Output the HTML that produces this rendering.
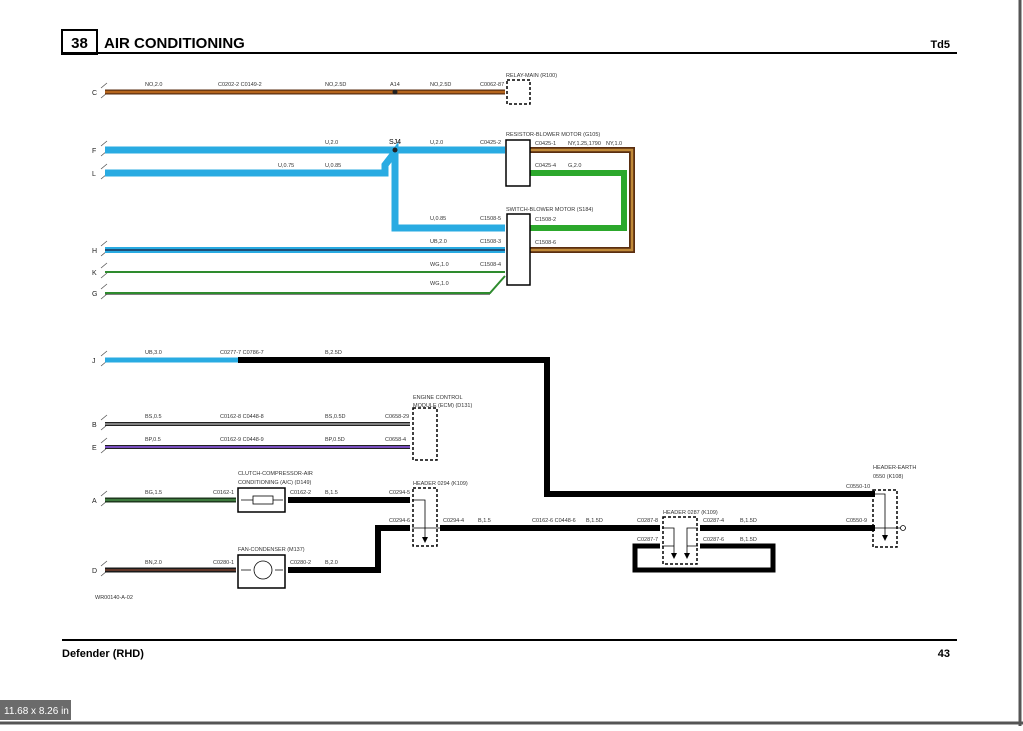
<!DOCTYPE html>
<html><head><meta charset="utf-8"><style>
body{margin:0;background:#fff;width:1023px;height:726px;overflow:hidden;font-family:"Liberation Sans",sans-serif}
svg text{font-family:"Liberation Sans",sans-serif}
.s{font-size:5.5px;fill:#333}
.m{font-size:7px;fill:#222}
</style></head><body>
<svg width="1023" height="726" viewBox="0 0 1023 726" xmlns="http://www.w3.org/2000/svg">
<rect x="0" y="0" width="1023" height="726" fill="#fff"/>
<line x1="1020" y1="0" x2="1020" y2="726" stroke="#555" stroke-width="3"/>
<line x1="0" y1="723" x2="1023" y2="723" stroke="#555" stroke-width="3"/>
<!-- header -->
<rect x="62" y="30" width="35" height="24" fill="#fff" stroke="#000" stroke-width="2"/>
<text x="79.5" y="48" text-anchor="middle" font-size="15" font-weight="bold">38</text>
<text x="104" y="48" font-size="15" font-weight="bold">AIR CONDITIONING</text>
<text x="950" y="48" text-anchor="end" font-size="11" font-weight="bold">Td5</text>
<line x1="62" y1="53" x2="957" y2="53" stroke="#000" stroke-width="2"/>
<line x1="62" y1="640" x2="957" y2="640" stroke="#000" stroke-width="2"/>
<text x="62" y="657" font-size="11" font-weight="bold">Defender (RHD)</text>
<text x="950" y="657" text-anchor="end" font-size="11" font-weight="bold">43</text>
<rect x="0" y="700" width="71" height="20" fill="#6b6b6b"/>
<text x="4" y="714" font-size="10" fill="#fff">11.68 x 8.26 in</text>

<!-- row letters -->
<g class="m"><text x="92" y="95">C</text><text x="92" y="153">F</text><text x="92" y="176">L</text><text x="92" y="253">H</text><text x="92" y="275">K</text><text x="92" y="296">G</text><text x="92" y="363">J</text><text x="92" y="427">B</text><text x="92" y="450">E</text><text x="92" y="503">A</text><text x="92" y="573">D</text></g>
<g stroke="#555" stroke-width="0.8" fill="none">
<path d="M101 88l6-5M101 98l6-5M101 146l6-5M101 156l6-5M101 169l6-5M101 179l6-5M101 246l6-5M101 256l6-5M101 268l6-5M101 278l6-5M101 289l6-5M101 299l6-5M101 356l6-5M101 366l6-5M101 420l6-5M101 430l6-5M101 443l6-5M101 453l6-5M101 496l6-5M101 506l6-5M101 566l6-5M101 576l6-5"/>
</g>

<!-- C brown -->
<line x1="105" y1="92" x2="505" y2="92" stroke="#5a2e10" stroke-width="5"/>
<line x1="105" y1="92" x2="505" y2="92" stroke="#b5651d" stroke-width="2.5"/>
<circle cx="395" cy="92" r="2.5" fill="#222"/>
<rect x="507" y="80" width="23" height="24" fill="none" stroke="#000" stroke-width="1.5" stroke-dasharray="3,2"/>
<g class="s"><text x="145" y="86">NO,2.0</text><text x="218" y="86">C0202-2 C0149-2</text><text x="325" y="86">NO,2.5D</text><text x="390" y="86">A14</text><text x="430" y="86">NO,2.5D</text><text x="480" y="86">C0062-87</text></g>
<text x="506" y="77" class="s" font-size="6">RELAY-MAIN (R100)</text>

<!-- blue F, L, SJ4 -->
<g stroke="#29abe2" stroke-width="7" fill="none" stroke-linejoin="miter">
<line x1="105" y1="150" x2="505" y2="150"/>
<path d="M105 173H385V165L395 152V228H505"/>
</g>
<circle cx="395" cy="150" r="2.5" fill="#222"/>
<g class="s"><text x="325" y="144">U,2.0</text><text x="430" y="144">U,2.0</text><text x="480" y="144">C0425-2</text><text x="278" y="167">U,0.75</text><text x="325" y="167">U,0.85</text><text x="430" y="220">U,0.85</text><text x="480" y="220">C1508-5</text></g>
<text x="389" y="144" font-size="7">SJ4</text>
<!-- H -->
<line x1="105" y1="250" x2="505" y2="250" stroke="#29abe2" stroke-width="6"/>
<line x1="105" y1="250" x2="505" y2="250" stroke="#1a1a3a" stroke-width="1.2"/>
<!-- K, G -->
<line x1="105" y1="272" x2="505" y2="272" stroke="#2e8b2e" stroke-width="2"/>
<path d="M105 293H490L505 276" stroke="#2e8b2e" stroke-width="2" fill="none"/>
<path d="M105 294.5H490" stroke="#555" stroke-width="0.8"/>
<g class="s"><text x="430" y="243">UB,2.0</text><text x="480" y="243">C1508-3</text><text x="430" y="266">WG,1.0</text><text x="480" y="266">C1508-4</text><text x="430" y="285">WG,1.0</text></g>

<!-- brown & green loops -->
<path d="M530 150H632V250H530" stroke="#5a2e10" stroke-width="6" fill="none"/>
<path d="M530 150H632V250H530" stroke="#c08a3a" stroke-width="2.5" fill="none"/>
<path d="M530 173H624V228H530" stroke="#2ca82c" stroke-width="6" fill="none"/>
<rect x="506" y="140" width="24" height="46" fill="#fff" stroke="#000" stroke-width="1.5"/>
<rect x="507" y="214" width="23" height="71" fill="#fff" stroke="#000" stroke-width="1.5"/>
<text x="506" y="136" class="s" font-size="6">RESISTOR-BLOWER MOTOR (G105)</text>
<text x="506" y="211" class="s" font-size="6">SWITCH-BLOWER MOTOR (S184)</text>
<g class="s"><text x="535" y="145">C0425-1</text><text x="568" y="145">NY,1.25,1790</text><text x="606" y="145">NY,1.0</text><text x="535" y="167">C0425-4</text><text x="568" y="167">G,2.0</text><text x="535" y="221">C1508-2</text><text x="535" y="244">C1508-6</text></g>

<!-- J -->
<line x1="105" y1="360" x2="238" y2="360" stroke="#29abe2" stroke-width="5"/>
<path d="M238 360H547V494H875" stroke="#000" stroke-width="6" fill="none"/>
<g class="s"><text x="145" y="354">UB,3.0</text><text x="220" y="354">C0277-7 C0786-7</text><text x="325" y="354">B,2.5D</text></g>

<!-- B E -->
<line x1="105" y1="424" x2="410" y2="424" stroke="#222" stroke-width="4"/>
<line x1="105" y1="424" x2="410" y2="424" stroke="#bbb" stroke-width="1.3"/>
<line x1="105" y1="447" x2="410" y2="447" stroke="#222" stroke-width="4"/>
<line x1="105" y1="447" x2="410" y2="447" stroke="#7a4fc0" stroke-width="2"/>
<rect x="413" y="408" width="24" height="52" fill="none" stroke="#000" stroke-width="1.5" stroke-dasharray="3,2"/>
<text x="413" y="399" class="s" font-size="6">ENGINE CONTROL</text><text x="413" y="407" class="s" font-size="6">MODULE (ECM) (D131)</text>
<g class="s"><text x="145" y="418">BS,0.5</text><text x="220" y="418">C0162-8 C0448-8</text><text x="325" y="418">BS,0.5D</text><text x="385" y="418">C0658-29</text><text x="145" y="441">BP,0.5</text><text x="220" y="441">C0162-9 C0448-9</text><text x="325" y="441">BP,0.5D</text><text x="385" y="441">C0658-4</text></g>

<!-- A -->
<line x1="105" y1="500" x2="236" y2="500" stroke="#1e3a1e" stroke-width="5"/>
<line x1="105" y1="500" x2="236" y2="500" stroke="#3d7a3d" stroke-width="2"/>
<rect x="238" y="488" width="47" height="24" fill="#fff" stroke="#000" stroke-width="1.5"/>
<path d="M241 500h12M273 500h10" stroke="#000" stroke-width="0.8"/>
<rect x="253" y="496" width="20" height="8" fill="#fff" stroke="#000" stroke-width="0.8"/>
<line x1="288" y1="500" x2="410" y2="500" stroke="#000" stroke-width="6"/>
<text x="238" y="475" class="s" font-size="6">CLUTCH-COMPRESSOR-AIR</text><text x="238" y="484" class="s" font-size="6">CONDITIONING (A/C) (D149)</text>
<g class="s"><text x="145" y="494">BG,1.5</text><text x="213" y="494">C0162-1</text><text x="290" y="494">C0162-2</text><text x="325" y="494">B,1.5</text><text x="389" y="494">C0294-5</text><text x="389" y="522">C0294-6</text></g>

<!-- D -->
<line x1="105" y1="570" x2="236" y2="570" stroke="#1a1a1a" stroke-width="5"/>
<line x1="105" y1="570" x2="236" y2="570" stroke="#6b3a2a" stroke-width="1.8"/>
<rect x="238" y="555" width="47" height="33" fill="#fff" stroke="#000" stroke-width="1.5"/>
<path d="M241 570h10M275 570h8" stroke="#000" stroke-width="0.8"/>
<circle cx="263" cy="570" r="9" fill="none" stroke="#000" stroke-width="0.8"/>
<line x1="288" y1="570" x2="378" y2="570" stroke="#000" stroke-width="6"/>
<path d="M378 573V528H410" stroke="#000" stroke-width="6" fill="none"/>
<text x="238" y="551" class="s" font-size="6">FAN-CONDENSER (M137)</text>
<g class="s"><text x="145" y="564">BN,2.0</text><text x="213" y="564">C0280-1</text><text x="290" y="564">C0280-2</text><text x="325" y="564">B,2.0</text></g>
<text x="95" y="599" class="s">WR00140-A-02</text>

<!-- header 0294 -->
<rect x="413" y="488" width="24" height="58" fill="none" stroke="#000" stroke-width="1.5" stroke-dasharray="3,2"/>
<text x="413" y="485" class="s" font-size="6">HEADER 0294 (K109)</text>
<path d="M412 500H425V537M412 528H440" stroke="#000" stroke-width="0.8" fill="none"/>
<polygon points="422,537 428,537 425,543" fill="#000"/>
<line x1="440" y1="528" x2="660" y2="528" stroke="#000" stroke-width="6"/>
<g class="s"><text x="443" y="522">C0294-4</text><text x="478" y="522">B,1.5</text><text x="532" y="522">C0162-6 C0448-6</text><text x="586" y="522">B,1.5D</text><text x="637" y="522">C0287-8</text><text x="637" y="541">C0287-7</text><text x="703" y="522">C0287-4</text><text x="740" y="522">B,1.5D</text><text x="703" y="541">C0287-6</text><text x="740" y="541">B,1.5D</text><text x="846" y="522">C0550-9</text><text x="846" y="488">C0550-10</text></g>

<!-- header 0287 + loop -->
<path d="M660 546H635V570H773V546H700" stroke="#000" stroke-width="5" fill="none"/>
<line x1="700" y1="528" x2="875" y2="528" stroke="#000" stroke-width="6"/>
<rect x="663" y="517" width="34" height="47" fill="#fff" stroke="#000" stroke-width="1.5" stroke-dasharray="3,2"/>
<text x="663" y="514" class="s" font-size="6">HEADER 0287 (K109)</text>
<path d="M662 528H674V554M662 546H674M698 528H687V554M698 546H687" stroke="#000" stroke-width="0.8" fill="none"/>
<polygon points="671,553 677,553 674,559" fill="#000"/><polygon points="684,553 690,553 687,559" fill="#000"/>

<!-- header earth -->
<rect x="873" y="490" width="24" height="57" fill="none" stroke="#000" stroke-width="1.5" stroke-dasharray="3,2"/>
<text x="873" y="469" class="s" font-size="6">HEADER-EARTH</text><text x="873" y="478" class="s" font-size="6">0550 (K108)</text>
<path d="M872 494H885V535M872 528H900" stroke="#000" stroke-width="0.8" fill="none"/>
<polygon points="882,535 888,535 885,541" fill="#000"/>
<circle cx="903" cy="528" r="2.5" fill="#fff" stroke="#000" stroke-width="0.8"/>
</svg>
</body></html>
